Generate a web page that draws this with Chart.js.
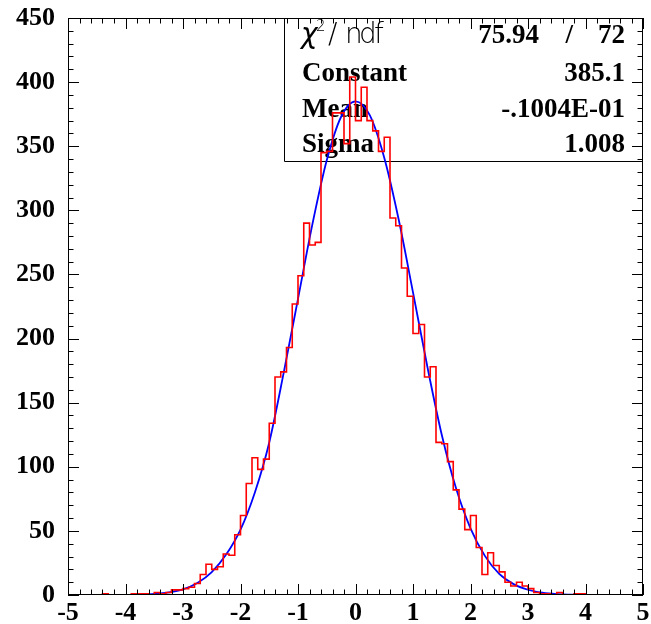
<!DOCTYPE html>
<html>
<head>
<meta charset="utf-8">
<script src="https://cdn.jsdelivr.net/npm/chart.js@4.4.1/dist/chart.umd.min.js"></script>
<style>
  html, body { margin: 0; padding: 0; background: #fff; }
</style>
</head>
<body>
<canvas id="chartContainer" width="651" height="624"></canvas>
<script>
"use strict";

// 1: data
const binLow = -5;
const binWidth = 0.1;
const binCounts = [
  0, 0, 0, 0, 0, 0, 1, 0, 0, 0,
  0, 1, 1, 1, 0, 2, 1, 2, 4, 4,
  5, 6, 9, 16, 24, 20, 22, 32, 31, 47,
  62, 87, 107, 98, 106, 134, 170, 174, 193, 227,
  249, 290, 273, 275, 345, 346, 376, 376, 352, 404,
  370, 396, 370, 362, 346, 357, 294, 288, 255, 233,
  204, 211, 170, 178, 119, 118, 104, 82, 67, 51,
  62, 37, 16, 33, 23, 18, 10, 7, 10, 7,
  5, 2, 1, 1, 0, 2, 0, 0, 1, 1,
  0, 0, 0, 0, 0, 0, 0, 0, 0, 0
];

// fit curve
const fitX = [-5, -4.75, -4.5, -4.25, -4, -3.75, -3.5, -3.25, -3, -2.75,
  -2.5, -2.25, -2, -1.75, -1.5, -1.25, -1, -0.75, -0.5, -0.25,
  0, 0.25, 0.5, 0.75, 1, 1.25, 1.5, 1.75, 2, 2.25,
  2.5, 2.75, 3, 3.25, 3.5, 3.75, 4, 4.25, 4.5, 4.75, 5];
const fitY = [0, 0, 0, 0, 0.1, 0.3, 0.8, 2, 4.4, 9.3,
  17.8, 31.5, 51, 80, 119, 173, 231, 289, 339, 373,
  385, 374, 341, 293, 236, 178, 125, 83, 52, 30.5,
  16.5, 8.5, 4.1, 1.8, 0.7, 0.3, 0.1, 0, 0, 0, 0];

const xMin = -5, xMax = 5;
const yMin = 0, yMax = 450;

const statsNames = ['Constant', 'Mean', 'Sigma'];
const statsValues = ['385.1', '-.1004E-01', '1.008'];
const chi2 = '75.94';
const ndf = '72';

// 2: prepare data for chart
function prepareData() {
  let hist = [];
  for (let i = 0; i < binCounts.length; i++) {
    hist.push({ x: Math.round((binLow + i * binWidth) * 10) / 10, y: binCounts[i] });
  }
  hist.push({ x: xMax, y: 0 });
  let fit = fitX.map((x, i) => ({ x: x, y: fitY[i] }));
  return { hist, fit };
}

const serif = '"Liberation Serif", "Times New Roman", serif';

// stats box + frame with inward ticks, ROOT style
const rootFrame = {
  id: 'rootFrame',
  beforeDatasetsDraw(chart) {
    const ctx = chart.ctx;
    const a = chart.chartArea;
    ctx.save();
    ctx.strokeStyle = '#000';
    ctx.lineWidth = 1;
    ctx.beginPath();
    ctx.moveTo(284.5, a.top);
    ctx.lineTo(284.5, 161.5);
    ctx.lineTo(a.right, 161.5);
    ctx.stroke();

    // chi2 / ndf label
    ctx.fillStyle = '#000';
    ctx.textBaseline = 'alphabetic';
    ctx.textAlign = 'left';
    ctx.font = 'italic 200 28px "DejaVu Sans", sans-serif';
    ctx.fillText('\u03c7', 301, 43);
    ctx.font = '200 15px "DejaVu Sans", sans-serif';
    ctx.fillText('2', 316, 31);
    ctx.font = '200 28px "DejaVu Sans", sans-serif';
    ctx.fillText('/', 328, 43);
    ctx.fillText('n', 345, 43);
    ctx.fillText('d', 359, 43);
    ctx.fillText('f', 374, 43);

    ctx.font = 'bold 27px ' + serif;
    ctx.textAlign = 'right';
    ctx.fillText(chi2, 539, 43);
    ctx.fillText('/', 573, 43);
    ctx.fillText(ndf, 625, 43);

    const baselines = [81, 117, 152];
    for (let i = 0; i < statsNames.length; i++) {
      ctx.textAlign = 'left';
      ctx.fillText(statsNames[i], 302, baselines[i]);
      ctx.textAlign = 'right';
      ctx.fillText(statsValues[i], 625, baselines[i]);
    }
    ctx.restore();
  },
  afterDatasetsDraw(chart) {
    const ctx = chart.ctx;
    const a = chart.chartArea;
    const xs = chart.scales.x;
    const ys = chart.scales.y;
    ctx.save();
    ctx.strokeStyle = '#000';
    ctx.lineWidth = 1;
    ctx.beginPath();
    for (let k = 0; k <= 50; k++) {
      const px = Math.round(xs.getPixelForValue(xMin + k * 0.2)) + 0.5;
      const len = k % 5 === 0 ? 11 : 5.5;
      ctx.moveTo(px, a.bottom);
      ctx.lineTo(px, a.bottom - len);
      ctx.moveTo(px, a.top);
      ctx.lineTo(px, a.top + len);
    }
    for (let k = 0; k <= 45; k++) {
      const py = Math.round(ys.getPixelForValue(k * 10)) + 0.5;
      const len = k % 5 === 0 ? 11 : 5.5;
      ctx.moveTo(a.left, py);
      ctx.lineTo(a.left + len, py);
      ctx.moveTo(a.right, py);
      ctx.lineTo(a.right - len, py);
    }
    ctx.stroke();
    ctx.strokeRect(Math.round(a.left) + 0.5, Math.round(a.top) + 0.5,
      Math.round(a.right - a.left) - 1, Math.round(a.bottom - a.top) - 1);
    ctx.restore();
  }
};

function noPad(scale) {
  scale.paddingTop = 0;
  scale.paddingBottom = 0;
  scale.paddingLeft = 0;
  scale.paddingRight = 0;
}

// 3: create and append the chart
function appendChart() {
  let data = prepareData();
  let chartContainer = document.getElementById('chartContainer');
  let chart = new Chart(chartContainer, {
    type: 'line',
    data: {
      datasets: [{
        data: data.hist,
        borderColor: '#ff0000',
        borderWidth: 1.6,
        stepped: 'before',
        pointRadius: 0,
        fill: false
      },
      {
        data: data.fit,
        borderColor: '#0000ff',
        borderWidth: 1.8,
        cubicInterpolationMode: 'monotone',
        pointRadius: 0,
        fill: false
      }]
    },
    options: {
      responsive: false,
      animation: false,
      events: [],
      layout: { padding: { left: 0, right: 8, top: 18, bottom: 0 } },
      plugins: {
        legend: { display: false },
        tooltip: { enabled: false },
        title: { display: false }
      },
      scales: {
        x: {
          type: 'linear',
          min: xMin,
          max: xMax,
          afterFit(scale) { scale.height = 29; noPad(scale); },
          grid: { display: false, drawTicks: false },
          border: { display: false },
          ticks: {
            stepSize: 1,
            autoSkip: false,
            maxRotation: 0,
            padding: 5,
            color: '#000',
            font: { family: serif, size: 26, weight: 'bold', lineHeight: 1 }
          }
        },
        y: {
          min: yMin,
          max: yMax,
          afterFit(scale) { scale.width = 68; noPad(scale); },
          grid: { display: false, drawTicks: false },
          border: { display: false },
          ticks: {
            stepSize: 50,
            autoSkip: false,
            padding: 13,
            color: '#000',
            font: { family: serif, size: 26, weight: 'bold' }
          }
        }
      }
    },
    plugins: [rootFrame]
  });
}

appendChart();
</script>
</body>
</html>
